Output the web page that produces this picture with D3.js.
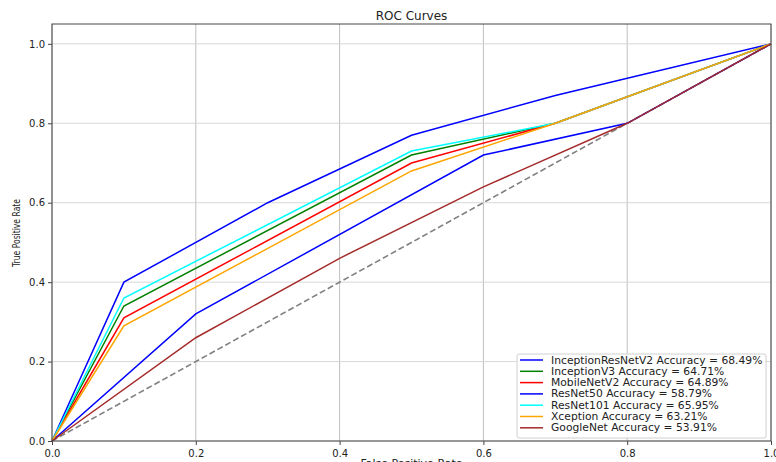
<!DOCTYPE html>
<html>
<head>
<meta charset="utf-8">
<script src="https://cdn.jsdelivr.net/npm/d3@7"></script>
<style>
  body { margin: 0; background: #fff; }
  svg text { font-family: "DejaVu Sans", sans-serif; fill: #222; }
</style>
</head>
<body>
<div id="chart"></div>
<script>
// model names and accuracies shown in the legend
const models = ["InceptionResNetV2", "InceptionV3", "MobileNetV2", "ResNet50", "ResNet101", "Xception", "GoogleNet"];
const accuracies = [68.49, 64.71, 64.89, 58.79, 65.95, 63.21, 53.91];

// ROC points (false positive rate / true positive rate) per model
const fprInceptionResNetV2 = [0, 0.1, 0.3, 0.5, 0.7, 1];
const tprInceptionResNetV2 = [0, 0.40, 0.60, 0.77, 0.87, 1];
const fprInceptionV3 = [0, 0.1, 0.5, 0.7, 1];
const tprInceptionV3 = [0, 0.34, 0.72, 0.80, 1];
const fprMobileNetV2 = [0, 0.1, 0.5, 0.7, 1];
const tprMobileNetV2 = [0, 0.31, 0.70, 0.80, 1];
const fprResNet50 = [0, 0.2, 0.6, 0.8, 1];
const tprResNet50 = [0, 0.32, 0.72, 0.80, 1];
const fprResNet101 = [0, 0.1, 0.5, 0.7, 1];
const tprResNet101 = [0, 0.36, 0.73, 0.80, 1];
const fprXception = [0, 0.1, 0.5, 0.7, 1];
const tprXception = [0, 0.29, 0.68, 0.80, 1];
const fprGoogleNet = [0, 0.2, 0.4, 0.6, 0.8, 1];
const tprGoogleNet = [0, 0.26, 0.46, 0.64, 0.80, 1];

const tickValues = [0, 0.2, 0.4, 0.6, 0.8, 1.0];
const colors = ["blue", "green", "red", "blue", "cyan", "orange", "brown"];

const curves = [
  [fprInceptionResNetV2, tprInceptionResNetV2],
  [fprInceptionV3, tprInceptionV3],
  [fprMobileNetV2, tprMobileNetV2],
  [fprResNet50, tprResNet50],
  [fprResNet101, tprResNet101],
  [fprXception, tprXception],
  [fprGoogleNet, tprGoogleNet]
].map(([f, t], i) => ({
  name: models[i],
  acc: accuracies[i],
  color: colors[i],
  points: f.map((x, j) => ({ x: x, y: t[j] }))
}));

const W = 776, H = 462;
const margin = { top: 24, right: 5, bottom: 21, left: 52 };
const width = W - margin.left - margin.right;
const height = H - margin.top - margin.bottom;

const svg = d3.select("#chart").append("svg")
  .attr("width", W)
  .attr("height", H);

const g = svg.append("g")
  .attr("transform", `translate(${margin.left},${margin.top})`);

const x = d3.scaleLinear().domain([0, 1]).range([0, width]);
const y = d3.scaleLinear().domain([0, 1.05]).range([height, 0]);

// grid
g.append("g").selectAll("line")
  .data(tickValues)
  .enter().append("line")
  .attr("x1", d => x(d)).attr("x2", d => x(d))
  .attr("y1", 0).attr("y2", height)
  .attr("stroke", "#b8b8b8").attr("stroke-width", 0.9);
g.append("g").selectAll("line")
  .data(tickValues)
  .enter().append("line")
  .attr("x1", 0).attr("x2", width)
  .attr("y1", d => y(d)).attr("y2", d => y(d))
  .attr("stroke", "#d4d4d4").attr("stroke-width", 0.9);

// axes
const xAxis = g.append("g")
  .attr("transform", `translate(0,${height})`)
  .call(d3.axisBottom(x).tickValues(tickValues).tickFormat(d3.format(".1f")).tickSizeInner(4).tickSizeOuter(0));
const yAxis = g.append("g")
  .call(d3.axisLeft(y).tickValues(tickValues).tickFormat(d3.format(".1f")).tickSizeInner(4).tickSizeOuter(0));
[xAxis, yAxis].forEach(a => {
  a.select(".domain").remove();
  a.selectAll(".tick line").attr("stroke", "#444");
  a.selectAll(".tick text").attr("font-size", 10).attr("fill", "#333")
    .style("font-family", "DejaVu Sans, sans-serif");
});
xAxis.selectAll(".tick text").attr("dy", "0.9em");

// diagonal
const line = d3.line().x(d => x(d.x)).y(d => y(d.y));
g.append("path")
  .datum([{ x: 0, y: 0 }, { x: 1, y: 1 }])
  .attr("d", line)
  .attr("fill", "none")
  .attr("stroke", "gray")
  .attr("stroke-width", 1.6)
  .attr("stroke-dasharray", "6,3");

// ROC curves
g.append("g").selectAll("path")
  .data(curves)
  .enter().append("path")
  .attr("d", d => line(d.points))
  .attr("fill", "none")
  .attr("stroke", d => d.color)
  .attr("stroke-width", 1.5);

// frame
g.append("rect")
  .attr("width", width).attr("height", height)
  .attr("fill", "none").attr("stroke", "#444").attr("stroke-width", 1);

// title and labels
svg.append("text")
  .attr("x", margin.left + width / 2).attr("y", 20)
  .attr("text-anchor", "middle").attr("font-size", 12)
  .text("ROC Curves");
svg.append("text")
  .attr("x", margin.left + width / 2).attr("y", 467)
  .attr("text-anchor", "middle").attr("font-size", 11)
  .text("False Positive Rate");
svg.append("text")
  .attr("transform", "translate(20,233) rotate(-90)")
  .attr("text-anchor", "middle").attr("font-size", 10)
  .attr("textLength", 68).attr("lengthAdjust", "spacingAndGlyphs")
  .text("True Positive Rate");

// legend
const legend = svg.append("g").attr("transform", "translate(517,354)");
legend.append("rect")
  .attr("width", 249).attr("height", 84)
  .attr("rx", 2)
  .attr("fill", "white").attr("fill-opacity", 0.85)
  .attr("stroke", "#d0d0d0");
const rows = legend.selectAll("g.row")
  .data(curves)
  .enter().append("g")
  .attr("transform", (d, i) => `translate(0,${6 + i * 11.3})`);
rows.append("line")
  .attr("x1", 3).attr("x2", 26)
  .attr("stroke", d => d.color).attr("stroke-width", 1.5);
rows.append("text")
  .attr("transform", "translate(34,0) scale(1.075,1)")
  .attr("dy", "0.35em")
  .attr("font-size", 10)
  .text(d => `${d.name} Accuracy = ${d.acc.toFixed(2)}%`);
</script>
</body>
</html>
